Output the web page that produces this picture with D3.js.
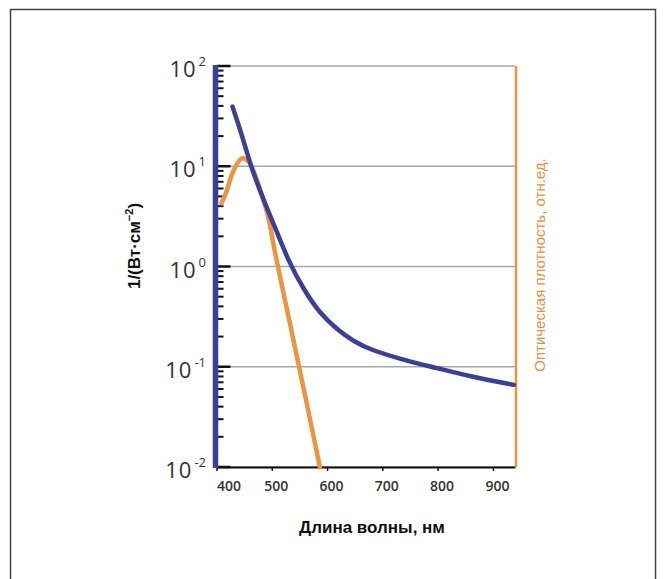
<!DOCTYPE html>
<html>
<head>
<meta charset="utf-8">
<script src="https://cdn.jsdelivr.net/npm/d3@7"></script>
<style>
  body { margin: 0; background: #fff; }
  svg { display: block; }
</style>
</head>
<body>
<div id="chart"></div>
<script>
(function() {
  // wavelength, nm / 1/(W*cm^-2)
  var blueWave = [429, 448, 462, 488, 510, 531, 557, 587, 618, 648, 678, 738, 799, 859, 938];
  var blueVals = [39.3, 19.0, 9.9, 4.21, 2.16, 1.11, 0.598, 0.34, 0.236, 0.179, 0.148, 0.117, 0.097, 0.080, 0.066];

  // optical density, rel. units (drawn on the same log grid)
  var orangeWave = [409, 418, 430, 446, 458, 470, 482, 494, 506, 533, 563, 587];
  var orangeVals = [4.27, 5.58, 8.83, 12.0, 11.1, 8.18, 5.18, 3.03, 1.37, 0.268, 0.0437, 0.01];

  var xTicks = [400, 500, 600, 700, 800, 900];
  var yDecades = [100, 10, 1, 0.1, 0.01];
  var yExponents = ['2', '1', '0', '-1', '-2'];

  var W = 665, H = 579;
  var left = 216.5, right = 515, top = 66, bottom = 467;

  var svg = d3.select('#chart').append('svg')
    .attr('width', W)
    .attr('height', H);

  // outer frame
  svg.append('rect')
    .attr('x', 10.5).attr('y', 9.5)
    .attr('width', 645).attr('height', 600)
    .attr('fill', 'none')
    .attr('stroke', '#444')
    .attr('stroke-width', 1.5);

  var x = d3.scaleLinear().domain([400, 940]).range([left, right]);
  var y = d3.scaleLog().domain([0.01, 100]).range([bottom, top]);

  // gridlines
  svg.append('g')
    .selectAll('line')
    .data(yDecades)
    .enter().append('line')
    .attr('x1', left).attr('x2', right)
    .attr('y1', function(d) { return y(d); })
    .attr('y2', function(d) { return y(d); })
    .attr('stroke', '#a8a8a8')
    .attr('stroke-width', 1.5);

  // minor ticks on the left axis
  var minor = [];
  yDecades.slice(1).forEach(function(d) {
    for (var k = 2; k <= 9; k++) minor.push(d * k);
  });
  svg.append('g')
    .selectAll('line')
    .data(minor)
    .enter().append('line')
    .attr('x1', left).attr('x2', left + 7)
    .attr('y1', function(d) { return y(d); })
    .attr('y2', function(d) { return y(d); })
    .attr('stroke', '#111')
    .attr('stroke-width', 2);

  // major ticks
  svg.append('g')
    .selectAll('line')
    .data(yDecades)
    .enter().append('line')
    .attr('x1', left).attr('x2', left + 14)
    .attr('y1', function(d) { return y(d); })
    .attr('y2', function(d) { return y(d); })
    .attr('stroke', '#111')
    .attr('stroke-width', 2.5);

  // y tick labels 10^n
  var yLab = svg.append('g')
    .selectAll('text')
    .data(yDecades)
    .enter().append('text')
    .attr('x', 206)
    .attr('y', function(d) { return y(d) + 11; })
    .attr('text-anchor', 'end')
    .attr('font-family', '"Open Sans", sans-serif')
    .attr('font-size', 22)
    .attr('fill', '#333');
  yLab.append('tspan').attr('letter-spacing', 1).text('10');
  yLab.append('tspan')
    .attr('dx', 2)
    .attr('dy', -11)
    .attr('font-size', 13)
    .text(function(d, i) { return yExponents[i]; });

  // bottom axis
  var xAxis = d3.axisBottom(x)
    .tickValues(xTicks)
    .tickSize(4)
    .tickSizeOuter(0)
    .tickFormat(d3.format('d'));
  var gx = svg.append('g')
    .attr('transform', 'translate(0,' + bottom + ')')
    .call(xAxis);
  gx.select('.domain').attr('stroke', '#111').attr('stroke-width', 2);
  gx.selectAll('.tick line').attr('stroke', '#111').attr('stroke-width', 1.5);
  gx.selectAll('.tick text')
    .attr('y', 14)
    .attr('font-family', '"Open Sans", sans-serif')
    .attr('font-size', 14)
    .attr('font-weight', 600)
    .attr('fill', '#333')
    .attr('dx', function(d) { return d === 400 ? 12 : 4; });

  // right axis (orange)
  svg.append('line')
    .attr('x1', right + 1).attr('x2', right + 1)
    .attr('y1', top).attr('y2', bottom)
    .attr('stroke', '#ec9440')
    .attr('stroke-width', 2.5);

  // left axis (blue)
  svg.append('line')
    .attr('x1', left - 1).attr('x2', left - 1)
    .attr('y1', top - 1).attr('y2', bottom + 1)
    .attr('stroke', '#3c3f97')
    .attr('stroke-width', 5.5);

  var line = d3.line()
    .x(function(d) { return x(d[0]); })
    .y(function(d) { return y(d[1]); });

  svg.append('path')
    .datum(orangeWave.map(function(w, i) { return [w, orangeVals[i]]; }))
    .attr('d', line.curve(d3.curveCatmullRom.alpha(0.5)))
    .attr('fill', 'none')
    .attr('stroke', '#ec9440')
    .attr('stroke-width', 4.5)
    .attr('stroke-linecap', 'round');

  svg.append('path')
    .datum(blueWave.map(function(w, i) { return [w, blueVals[i]]; }))
    .attr('d', line.curve(d3.curveBasis))
    .attr('fill', 'none')
    .attr('stroke', '#3c3f97')
    .attr('stroke-width', 4.5)
    .attr('stroke-linecap', 'round');

  // axis titles
  var narrow = '"Liberation Sans Narrow", "Arial Narrow", "Liberation Sans", sans-serif';

  var yTitle = svg.append('text')
    .attr('transform', 'translate(140,246) rotate(-90)')
    .attr('text-anchor', 'middle')
    .attr('font-family', narrow)
    .attr('font-weight', 'bold')
    .attr('font-size', 17)
    .attr('fill', '#111');
  yTitle.append('tspan').text('1/(Вт·см');
  yTitle.append('tspan').attr('dy', -7).attr('font-size', 11).text('−2');
  yTitle.append('tspan').attr('dy', 7).text(')');

  svg.append('text')
    .attr('x', 372)
    .attr('y', 533)
    .attr('text-anchor', 'middle')
    .attr('font-family', narrow)
    .attr('font-weight', 'bold')
    .attr('font-size', 17)
    .attr('fill', '#111')
    .text('Длина волны, нм');

  svg.append('text')
    .attr('transform', 'translate(545,265) rotate(-90)')
    .attr('text-anchor', 'middle')
    .attr('font-family', narrow)
    .attr('font-size', 15)
    .attr('fill', '#e8913a')
    .text('Оптическая плотность, отн.ед.');
})();
</script>
</body>
</html>
